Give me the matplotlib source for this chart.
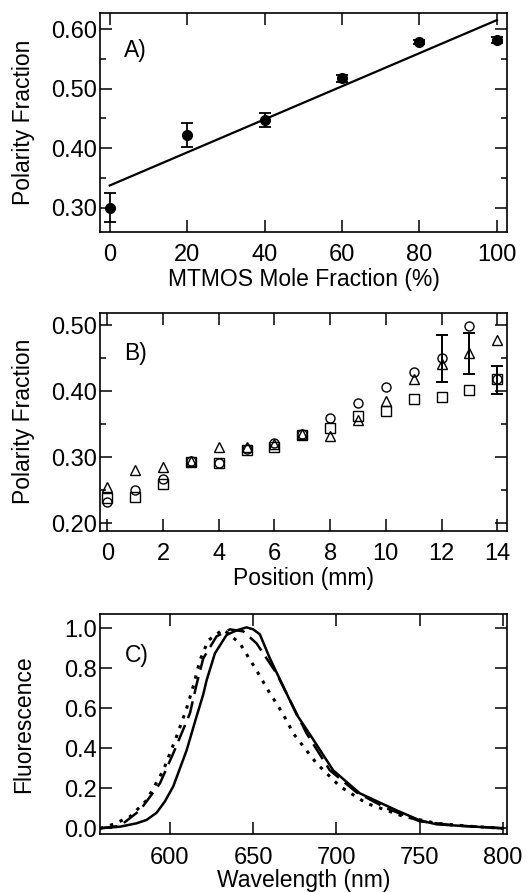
#!/usr/bin/env python3
"""Polarity fraction vs MTMOS fraction / position, and fluorescence spectra."""

import matplotlib

matplotlib.use("Agg")
import matplotlib.pyplot as plt
from matplotlib.ticker import MultipleLocator

plt.rcParams["font.family"] = ["Liberation Sans", "DejaVu Sans"]

# --- Panel A: polarity vs MTMOS mole fraction ---
mtmos_pct = [0, 20, 40, 60, 80, 100]
mtmos_polarity = [0.300, 0.422, 0.447, 0.517, 0.578, 0.581]
mtmos_err = [0.025, 0.020, 0.012, 0.006, 0.004, 0.005]
fit_x = [0, 100]
fit_y = [0.337, 0.615]

# --- Panel B: polarity vs position (three samples) ---
position_mm = [0, 1, 2, 3, 4, 5, 6, 7, 8, 9, 10, 11, 12, 13, 14]
pos_circle = [0.233, 0.250, 0.268, 0.295, 0.292, 0.313, 0.322, 0.335, 0.360, 0.383, 0.406, 0.429, 0.451, 0.499, 0.418]
pos_triangle = [0.255, 0.281, 0.286, 0.295, 0.316, 0.316, 0.320, 0.335, 0.333, 0.356, 0.385, 0.418, 0.441, 0.458, 0.478]
pos_square = [0.239, 0.240, 0.260, 0.293, 0.291, 0.311, 0.316, 0.334, 0.345, 0.362, 0.371, 0.389, 0.392, 0.402, 0.418]
err_x = [12, 13, 14]
err_center = [0.450, 0.457, 0.417]
err_size = [0.036, 0.031, 0.021]

# --- Panel C: normalised fluorescence spectra ---
wl_solid = [558, 570, 580, 586, 592, 597, 602, 610, 616, 620, 622, 627, 634, 640, 646, 650,
            654, 660, 668, 672, 676, 684, 698, 714, 736, 750, 760, 775, 790, 800]
fl_solid = [0.0, 0.008, 0.025, 0.042, 0.078, 0.135, 0.21, 0.39, 0.56, 0.67, 0.74, 0.875,
            0.967, 0.99, 1.005, 0.995, 0.97, 0.85, 0.71, 0.64, 0.57, 0.47, 0.29, 0.175,
            0.09, 0.04, 0.02, 0.012, 0.005, 0.0]
wl_dash = [558, 570, 582, 594, 602, 612, 616, 620, 628, 636, 644, 652, 664, 682, 696,
           712, 730, 750, 770, 800]
fl_dash = [0.0, 0.012, 0.09, 0.225, 0.375, 0.575, 0.72, 0.85, 0.96, 0.995, 0.985, 0.925,
           0.775, 0.475, 0.29, 0.18, 0.10, 0.035, 0.015, 0.0]
wl_dot = [558, 566, 576, 586, 596, 604, 610, 614, 618, 623, 632, 642, 652, 660, 664,
          670, 674, 688, 702, 718, 740, 760, 780, 800]
fl_dot = [0.0, 0.02, 0.058, 0.14, 0.29, 0.46, 0.60, 0.71, 0.84, 0.94, 0.995, 0.925, 0.79,
          0.675, 0.625, 0.54, 0.475, 0.325, 0.21, 0.125, 0.06, 0.025, 0.01, 0.0]

LABEL_SIZE = 16.5
TICK_SIZE = 17


def style_axes(ax):
    for spine in ax.spines.values():
        spine.set_linewidth(1.2)
    ax.tick_params(which="both", direction="in", top=True, right=True,
                   labelsize=TICK_SIZE, width=1.1)
    ax.tick_params(axis="x", pad=9)
    ax.tick_params(axis="y", pad=2)
    ax.tick_params(which="major", length=8.5)
    ax.tick_params(which="minor", length=4.5)


fig = plt.figure(figsize=(5.32, 8.92), dpi=100)

# Panel A
ax_a = fig.add_axes([0.188, 0.740, 0.765, 0.2455])
ax_a.errorbar(mtmos_pct, mtmos_polarity, yerr=mtmos_err, fmt="o", color="black",
              markersize=7, capsize=4, elinewidth=1.3, capthick=1.3)
ax_a.plot(fit_x, fit_y, color="black", linewidth=1.6)
ax_a.set_xlim(-2.5, 102.6)
ax_a.set_ylim(0.259, 0.627)
ax_a.xaxis.set_major_locator(MultipleLocator(20))
ax_a.yaxis.set_major_locator(MultipleLocator(0.1))
ax_a.yaxis.set_minor_locator(MultipleLocator(0.05))
ax_a.yaxis.set_major_formatter(lambda v, _: f"{v:.2f}")
ax_a.set_xlabel("MTMOS Mole Fraction (%)", fontsize=LABEL_SIZE, labelpad=1)
ax_a.set_ylabel("Polarity Fraction", fontsize=LABEL_SIZE)
ax_a.text(0.06, 0.80, "A)", transform=ax_a.transAxes, fontsize=LABEL_SIZE)
style_axes(ax_a)

# Panel B
ax_b = fig.add_axes([0.188, 0.405, 0.765, 0.2444])
marker_kw = dict(linestyle="none", markerfacecolor="none", markeredgecolor="black",
                 markersize=6.5, markeredgewidth=1.0)
ax_b.plot(position_mm, pos_circle, marker="o", **marker_kw)
ax_b.plot(position_mm, pos_triangle, marker="^", **marker_kw)
ax_b.plot(position_mm, pos_square, marker="s", **marker_kw)
ax_b.errorbar(err_x, err_center, yerr=err_size, fmt="none", ecolor="black",
              capsize=4, elinewidth=1.4, capthick=1.4)
ax_b.set_xlim(-0.26, 14.35)
ax_b.set_ylim(0.189, 0.519)
ax_b.xaxis.set_major_locator(MultipleLocator(2))
ax_b.yaxis.set_major_locator(MultipleLocator(0.1))
ax_b.yaxis.set_minor_locator(MultipleLocator(0.05))
ax_b.yaxis.set_major_formatter(lambda v, _: f"{v:.2f}")
ax_b.set_xlabel("Position (mm)", fontsize=LABEL_SIZE, labelpad=1)
ax_b.set_ylabel("Polarity Fraction", fontsize=LABEL_SIZE)
ax_b.text(0.06, 0.783, "B)", transform=ax_b.transAxes, fontsize=LABEL_SIZE)
style_axes(ax_b)

# Panel C
ax_c = fig.add_axes([0.188, 0.0647, 0.765, 0.247])
ax_c.plot(wl_solid, fl_solid, color="black", linewidth=1.8, linestyle="-")
ax_c.plot(wl_dash, fl_dash, color="black", linewidth=1.8, linestyle=(0, (7, 3)))
ax_c.plot(wl_dot, fl_dot, color="black", linewidth=2.2, linestyle=(0, (1.1, 2.3)))
ax_c.set_xlim(558, 802.4)
ax_c.set_ylim(-0.03, 1.072)
ax_c.xaxis.set_major_locator(MultipleLocator(50))
ax_c.yaxis.set_major_locator(MultipleLocator(0.2))
ax_c.yaxis.set_major_formatter(lambda v, _: f"{v:.1f}")
ax_c.set_xlabel("Wavelength (nm)", fontsize=LABEL_SIZE, labelpad=0)
ax_c.set_ylabel("Fluorescence", fontsize=LABEL_SIZE)
ax_c.text(0.06, 0.782, "C)", transform=ax_c.transAxes, fontsize=LABEL_SIZE)
style_axes(ax_c)

for ax in (ax_a, ax_b, ax_c):
    ax.yaxis.set_label_coords(-0.16, 0.5)

fig.savefig("out.png", dpi=100)
